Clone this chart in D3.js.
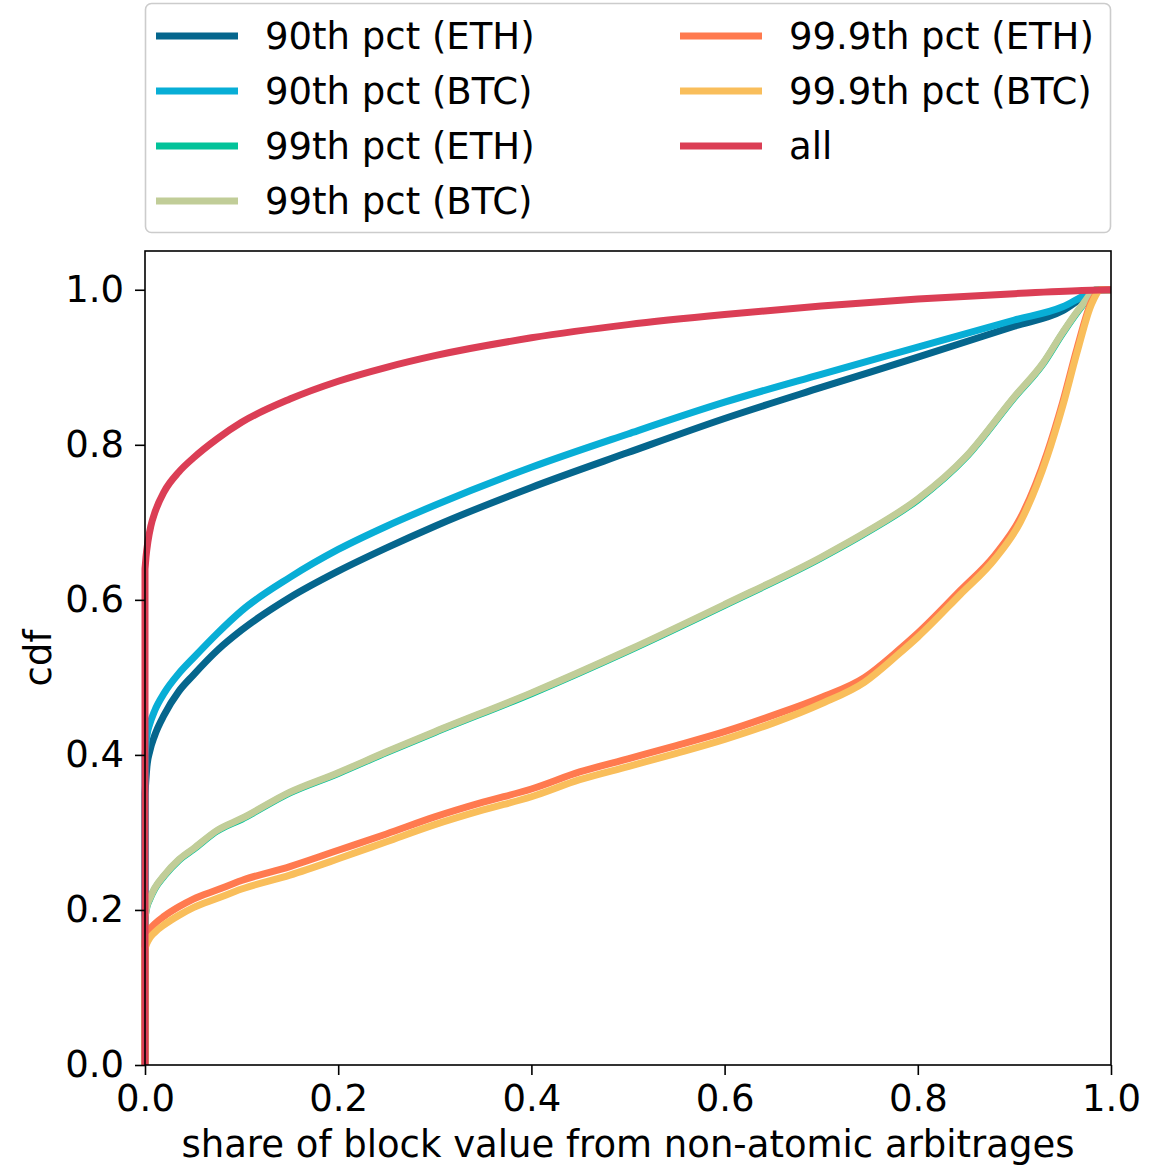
<!DOCTYPE html>
<html>
<head>
<meta charset="utf-8">
<script src="https://cdn.jsdelivr.net/npm/d3@7"></script>
<style>
  html, body { margin: 0; padding: 0; background: #fff; }
  svg { display: block; font-family: "DejaVu Sans", sans-serif; }
</style>
</head>
<body>
<svg id="chart" width="1167" height="1167"></svg>
<script>
// ---- data ----
const seriesNames = ["90th pct (ETH)", "90th pct (BTC)", "99th pct (ETH)", "99th pct (BTC)", "99.9th pct (ETH)", "99.9th pct (BTC)", "all"];
const seriesColors = ["#05668d", "#08aed6", "#02c39a", "#c1cd98", "#ff7a4f", "#f9be5b", "#db3e55"];

const xTicks = [0.0, 0.2, 0.4, 0.6, 0.8, 1.0];
const yTicks = [0.0, 0.2, 0.4, 0.6, 0.8, 1.0];
const xLabel = "share of block value from non-atomic arbitrages";
const yLabel = "cdf";

const p90eth = [[0,0.35],[0.002,0.385],[0.005,0.405],[0.01,0.425],[0.02,0.452],[0.035,0.482],[0.05,0.503],[0.075,0.535],[0.1,0.561],[0.15,0.603],[0.2,0.637],[0.25,0.667],[0.3,0.695],[0.4,0.745],[0.5,0.79],[0.6,0.834],[0.7,0.874],[0.8,0.913],[0.9,0.953],[0.95,0.973],[0.975,0.993],[0.99,1.0],[1.0,1.0]];
const p90btc = [[0,0.40],[0.002,0.425],[0.005,0.44],[0.01,0.457],[0.02,0.48],[0.035,0.505],[0.05,0.525],[0.075,0.557],[0.1,0.586],[0.15,0.629],[0.2,0.665],[0.25,0.695],[0.3,0.722],[0.4,0.771],[0.5,0.814],[0.6,0.855],[0.7,0.891],[0.8,0.926],[0.9,0.961],[0.95,0.978],[0.975,0.994],[0.99,1.0],[1.0,1.0]];
const p99eth = [[0,0.19],[0.002,0.204],[0.005,0.214],[0.01,0.227],[0.02,0.244],[0.035,0.264],[0.05,0.278],[0.075,0.302],[0.1,0.317],[0.15,0.351],[0.2,0.376],[0.25,0.403],[0.3,0.429],[0.4,0.479],[0.5,0.534],[0.6,0.593],[0.7,0.654],[0.75,0.689],[0.8,0.729],[0.85,0.784],[0.9,0.861],[0.93,0.905],[0.95,0.944],[0.97,0.979],[0.985,1.0],[1.0,1.0]];
const p99btc = [[0,0.19],[0.002,0.205],[0.005,0.215],[0.01,0.228],[0.02,0.245],[0.035,0.265],[0.05,0.279],[0.075,0.303],[0.1,0.318],[0.15,0.352],[0.2,0.377],[0.25,0.404],[0.3,0.43],[0.4,0.48],[0.5,0.535],[0.6,0.594],[0.7,0.655],[0.75,0.69],[0.8,0.73],[0.85,0.785],[0.9,0.862],[0.93,0.906],[0.95,0.945],[0.97,0.98],[0.985,1.0],[1.0,1.0]];
const p999eth = [[0,0.16],[0.002,0.168],[0.005,0.175],[0.01,0.182],[0.02,0.192],[0.035,0.204],[0.05,0.214],[0.075,0.226],[0.1,0.238],[0.15,0.256],[0.2,0.277],[0.25,0.298],[0.3,0.32],[0.35,0.339],[0.4,0.356],[0.45,0.378],[0.5,0.395],[0.55,0.412],[0.6,0.43],[0.65,0.451],[0.7,0.474],[0.745,0.5],[0.78,0.535],[0.8,0.557],[0.844,0.612],[0.88,0.658],[0.906,0.705],[0.934,0.79],[0.95,0.855],[0.965,0.925],[0.98,0.985],[0.99,1.0],[1.0,1.0]];
const p999btc = [[0,0.15],[0.002,0.157],[0.005,0.164],[0.01,0.171],[0.02,0.181],[0.035,0.193],[0.05,0.203],[0.075,0.215],[0.1,0.227],[0.15,0.245],[0.2,0.266],[0.25,0.288],[0.3,0.31],[0.35,0.329],[0.4,0.346],[0.45,0.368],[0.5,0.385],[0.55,0.402],[0.6,0.42],[0.65,0.441],[0.7,0.466],[0.745,0.494],[0.78,0.53],[0.8,0.552],[0.844,0.607],[0.88,0.653],[0.906,0.70],[0.934,0.785],[0.95,0.85],[0.965,0.92],[0.98,0.982],[0.99,1.0],[1.0,1.0]];
const allVals = [[0,0.64],[0.001,0.655],[0.003,0.675],[0.006,0.695],[0.01,0.712],[0.02,0.74],[0.035,0.765],[0.05,0.783],[0.075,0.808],[0.1,0.829],[0.15,0.859],[0.2,0.882],[0.25,0.9],[0.3,0.915],[0.4,0.938],[0.5,0.955],[0.6,0.968],[0.7,0.979],[0.8,0.988],[0.9,0.995],[0.97,0.999],[1.0,1.0]];

const seriesData = [p90eth, p90btc, p99eth, p99btc, p999eth, p999btc, allVals];

// ---- layout ----
const svg = d3.select("#chart");
const mLeft = 145, mRight = 1111, mTop = 251, mBottom = 1065;
const x = d3.scaleLinear().domain([0, 1]).range([mLeft, mRight]);
const y = d3.scaleLinear().domain([0, 1.05]).range([mBottom, mTop]);

const lineGen = d3.line().x(d => x(d[0])).y(d => y(d[1])).curve(d3.curveMonotoneX);

const g = svg.append("g");
seriesData.forEach((data, i) => {
  const curve = lineGen(data);
  const d = `M${x(0)},${y(0)}L` + curve.substring(1);
  g.append("path")
    .attr("d", d)
    .attr("fill", "none")
    .attr("stroke", seriesColors[i])
    .attr("stroke-width", 7)
    .attr("stroke-linejoin", "round")
    .attr("stroke-linecap", "butt");
});

// axes
const fs = 37;
const xAxis = d3.axisBottom(x).tickValues(xTicks).tickFormat(d3.format(".1f")).tickSize(10).tickPadding(10);
const yAxis = d3.axisLeft(y).tickValues(yTicks).tickFormat(d3.format(".1f")).tickSize(10).tickPadding(11);

const gx = svg.append("g").attr("transform", `translate(0,${mBottom})`).call(xAxis);
const gy = svg.append("g").attr("transform", `translate(${mLeft},0)`).call(yAxis);
[gx, gy].forEach(ax => {
  ax.select(".domain").remove();
  ax.selectAll(".tick line").attr("stroke", "#000").attr("stroke-width", 1.6);
  ax.selectAll(".tick text").attr("font-size", fs).attr("fill", "#000").attr("font-family", "DejaVu Sans");
});

// spines
svg.append("rect")
  .attr("x", mLeft).attr("y", mTop)
  .attr("width", mRight - mLeft).attr("height", mBottom - mTop)
  .attr("fill", "none").attr("stroke", "#000").attr("stroke-width", 1.6);

// axis labels
svg.append("text")
  .attr("x", (mLeft + mRight) / 2).attr("y", 1157)
  .attr("text-anchor", "middle").attr("font-size", fs).attr("fill", "#000")
  .text(xLabel);
svg.append("text")
  .attr("transform", `translate(51,${(mTop + mBottom) / 2}) rotate(-90)`)
  .attr("text-anchor", "middle").attr("font-size", fs).attr("fill", "#000")
  .text(yLabel);

// legend
const lg = svg.append("g");
lg.append("rect")
  .attr("x", 145.5).attr("y", 3.5).attr("width", 965).attr("height", 229)
  .attr("rx", 6).attr("ry", 6)
  .attr("fill", "#fff").attr("fill-opacity", 0.8)
  .attr("stroke", "#cccccc").attr("stroke-width", 1.6);

const rowY = [36, 91, 146, 201];
const colX = [156, 680];
seriesNames.forEach((name, i) => {
  const col = i < 4 ? 0 : 1;
  const row = i < 4 ? i : i - 4;
  const lx = colX[col], ly = rowY[row];
  lg.append("line")
    .attr("x1", lx).attr("x2", lx + 82)
    .attr("y1", ly).attr("y2", ly)
    .attr("stroke", seriesColors[i]).attr("stroke-width", 7);
  lg.append("text")
    .attr("x", lx + 109).attr("y", ly)
    .attr("dy", "0.35em")
    .attr("font-size", fs).attr("fill", "#000")
    .text(name);
});
</script>
</body>
</html>
